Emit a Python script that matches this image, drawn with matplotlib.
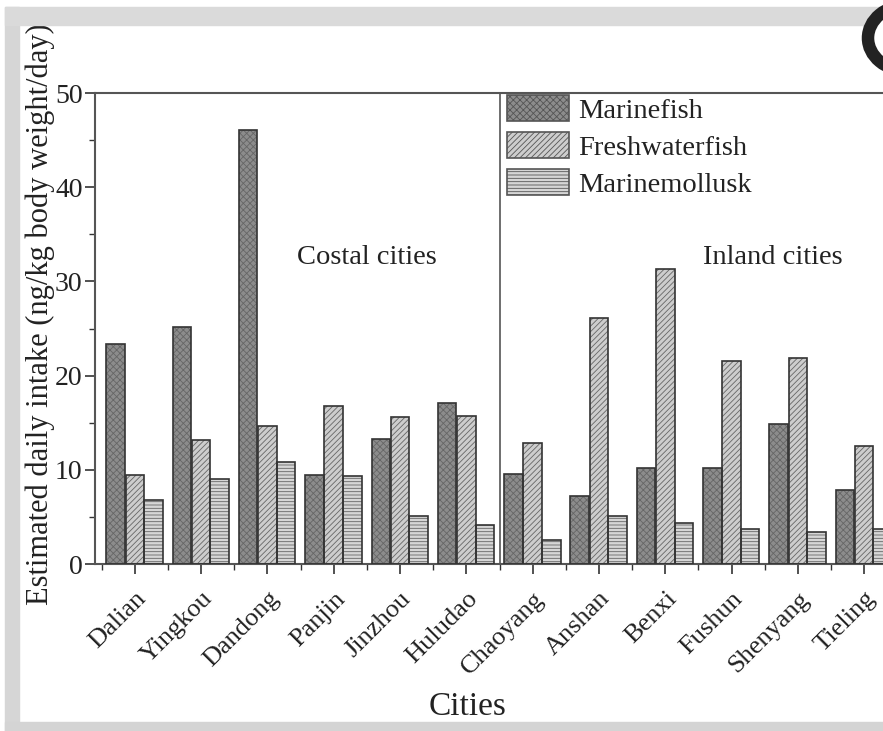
import numpy as np
import matplotlib
matplotlib.use("Agg")
import matplotlib.pyplot as plt
from matplotlib.patches import Patch, Rectangle, Circle

plt.rcParams['font.family'] = ['Liberation Serif', 'DejaVu Serif']

cities = ['Dalian', 'Yingkou', 'Dandong', 'Panjin', 'Jinzhou', 'Huludao',
          'Chaoyang', 'Anshan', 'Benxi', 'Fushun', 'Shenyang', 'Tieling']
marine_fish = [23.4, 25.2, 46.1, 9.4, 13.3, 17.1, 9.6, 7.2, 10.2, 10.2, 14.9, 7.9]
freshwater_fish = [9.5, 13.2, 14.6, 16.8, 15.6, 15.7, 12.8, 26.1, 31.3, 21.6, 21.9, 12.5]
marine_mollusk = [6.8, 9.0, 10.8, 9.3, 5.1, 4.1, 2.5, 5.1, 4.3, 3.7, 3.4, 3.7]
series_names = ['Marinefish', 'Freshwaterfish', 'Marinemollusk']

W, H = 883, 731
fig = plt.figure(figsize=(W / 100, H / 100), dpi=100)

# screenshot frame (grey shadow band on top / left / bottom)
fig.patches.append(Rectangle((5 / W, 0), 14 / W, 724 / H, transform=fig.transFigure,
                             color='#d6d6d6', zorder=0))
fig.patches.append(Rectangle((5 / W, 706 / H), 1, 18 / H, transform=fig.transFigure,
                             color='#dadada', zorder=0))
fig.patches.append(Rectangle((5 / W, 0), 1, 9 / H, transform=fig.transFigure,
                             color='#d4d4d4', zorder=0))
fig.patches.append(Circle((908 / W, 693 / H), 40 / W, transform=fig.transFigure,
                          facecolor='white', edgecolor='#222222', lw=9, zorder=1))

x = np.arange(len(cities))
ax = fig.add_axes([95 / W, 167 / H, 809 / W, 471 / H])

bw = 0.28
styles = [
    (marine_fish, -0.29, '#8c8c8c', 'xxxxx'),
    (freshwater_fish, 0.0, '#cdcdcd', '//////'),
    (marine_mollusk, 0.28, '#d6d6d6', '-----'),
]
plt.rcParams['hatch.linewidth'] = 0.6
handles = []
for (vals, off, fc, hatch), name in zip(styles, series_names):
    ax.bar(x + off, vals, bw, color=fc, edgecolor='#666666', hatch=hatch, lw=0, zorder=2)
    ax.bar(x + off, vals, bw, fill=False, edgecolor='#333333', lw=1.2, zorder=3)
    handles.append(Patch(facecolor=fc, edgecolor='#555555', hatch=hatch, lw=1.2, label=name))

ax.axvline(5.5, color='#555555', lw=1.2)
ax.set_xlim(-0.6, 11.6)
ax.set_ylim(0, 50)
ax.set_yticks(range(0, 51, 10))
ax.set_yticks(range(5, 50, 10), minor=True)
ax.set_xticks(x)
ax.set_xticks(np.arange(-0.5, 11.6, 1), minor=True)
ax.set_xticklabels(cities, rotation=45, ha='right', rotation_mode='anchor')
ax.tick_params(which='major', direction='out', length=7, width=1.2, labelsize=20, colors='#333333')
ax.tick_params(which='minor', direction='out', length=4, width=1.0, colors='#333333')
ax.tick_params(axis='y', pad=2, labelcolor='#222222')
ax.tick_params(axis='x', labelcolor='#222222', labelsize=19, pad=10)
for s in ax.spines.values():
    s.set_linewidth(1.5)
    s.set_color('#555555')

ax.text(3.5, 32.5, 'Costal cities', fontsize=20.5, ha='center', va='center', color='#222222')
ax.text(9.62, 32.5, 'Inland cities', fontsize=20.5, ha='center', va='center', color='#222222')

ax.set_ylabel('Estimated daily intake (ng/kg body weight/day)', fontsize=22, color='#222222')
ax.yaxis.set_label_coords(-0.05, 0.53)
ax.set_xlabel('Cities', fontsize=24, color='#222222')
ax.xaxis.set_label_coords(0.461, -0.27)

ax.legend(handles=handles, loc='upper left', bbox_to_anchor=(0.5, 1.01), frameon=False,
          fontsize=20.5, handlelength=2.2, handleheight=1.0, handletextpad=0.3,
          labelspacing=0.3, borderaxespad=0.1, borderpad=0.15, labelcolor='#222222')

fig.savefig('out.png', dpi=100)
